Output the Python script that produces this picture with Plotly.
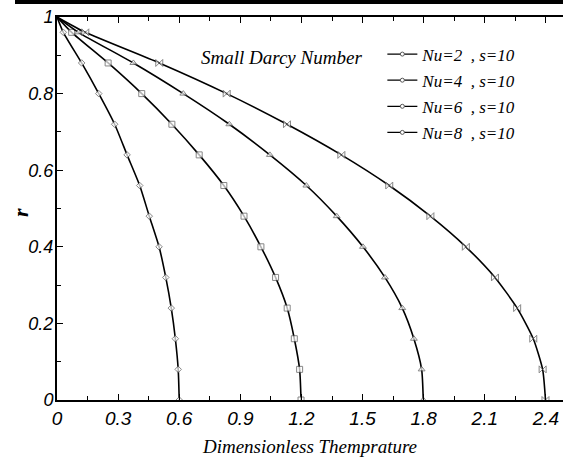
import plotly.graph_objects as go

# ---- data ----
r_vals = [1.0, 0.96, 0.88, 0.80, 0.72, 0.64, 0.56, 0.48, 0.40, 0.32, 0.24, 0.16, 0.08, 0.0]
temp_nu2 = [0, 0.031, 0.121, 0.205, 0.283, 0.344, 0.406, 0.453, 0.501, 0.534, 0.561, 0.581, 0.595, 0.600]
temp_nu4 = [0, 0.072, 0.251, 0.416, 0.564, 0.698, 0.819, 0.918, 1.001, 1.073, 1.130, 1.165, 1.191, 1.198]
temp_nu6 = [0, 0.105, 0.375, 0.620, 0.846, 1.045, 1.224, 1.373, 1.502, 1.610, 1.695, 1.752, 1.790, 1.798]
temp_nu8 = [0, 0.139, 0.502, 0.833, 1.129, 1.396, 1.631, 1.833, 2.007, 2.150, 2.259, 2.338, 2.384, 2.398]
series_names = ["Nu=2  , s=10", "Nu=4  , s=10", "Nu=6  , s=10", "Nu=8  , s=10"]
x_ticks = [0, 0.3, 0.6, 0.9, 1.2, 1.5, 1.8, 2.1, 2.4]
x_tick_labels = ["0", "0.3", "0.6", "0.9", "1.2", "1.5", "1.8", "2.1", "2.4"]
y_ticks = [0, 0.2, 0.4, 0.6, 0.8, 1]
y_tick_labels = ["0", "0.2", "0.4", "0.6", "0.8", "1"]

series = [temp_nu2, temp_nu4, temp_nu6, temp_nu8]
symbols = ["diamond", "square", "triangle-up", "bowtie"]
msizes = [5, 6, 6, 7]

SERIF = "Liberation Serif, Times New Roman, serif"
SANS = "Liberation Sans, Arial, sans-serif"

fig = go.Figure()
for vals, sym, ms in zip(series, symbols, msizes):
    sizes = [0] + [ms] * (len(vals) - 1)
    fig.add_trace(go.Scatter(
        x=vals, y=r_vals, mode="lines+markers",
        line=dict(color="black", width=1.6, shape="spline", smoothing=0.6),
        marker=dict(symbol=sym, size=sizes, color="white",
                    line=dict(color="#555555", width=1)),
        showlegend=False, hoverinfo="skip",
    ))

# legend entries (reference uses the same small circle icon for each)
for i, name in enumerate(series_names):
    fig.add_trace(go.Scatter(
        x=[None], y=[None], mode="lines+markers", name=name,
        legendgroup=str(i),
        line=dict(color="black", width=1.2),
        marker=dict(symbol="circle", size=4, color="white",
                    line=dict(color="#555555", width=1)),
    ))

fig.add_annotation(
    x=1.10, y=0.895, xref="x", yref="y", text="Small Darcy Number",
    showarrow=False, font=dict(family=SERIF, size=19, color="black", style="italic"),
)

# y-axis title placed as rotated text
fig.add_annotation(
    x=-0.072, y=0.49, xref="paper", yref="paper", text="<b>r</b>",
    textangle=-90, showarrow=False, xanchor="center", yanchor="middle",
    font=dict(family=SERIF, size=22, color="black", style="italic"),
)

# page border line at the top
fig.add_shape(type="line", xref="paper", yref="paper",
              x0=-0.083, x1=1.0, y0=1.039, y1=1.039,
              line=dict(color="black", width=4))

fig.update_layout(
    width=563, height=461,
    margin=dict(l=57, r=0, t=17, b=61),
    paper_bgcolor="white", plot_bgcolor="white",
    legend=dict(
        x=0.643, y=0.949, xanchor="left", yanchor="top",
        bgcolor="rgba(0,0,0,0)", borderwidth=0,
        font=dict(family=SERIF, size=17, color="black", style="italic"),
        itemwidth=30, traceorder="grouped", tracegroupgap=1,
    ),
    xaxis=dict(
        range=[0, 2.484], tickmode="array", tickvals=x_ticks, ticktext=x_tick_labels,
        ticks="inside", ticklen=6, tickwidth=1, tickcolor="black",
        minor=dict(dtick=0.15, ticks="inside", ticklen=4, tickcolor="black", showgrid=False),
        showline=True, linecolor="black", linewidth=2, mirror="ticks",
        showgrid=False, zeroline=False, automargin=False,
        tickfont=dict(family=SANS, size=19, color="black", style="italic"),
        title=dict(text="Dimensionless Themprature", standoff=12,
                   font=dict(family=SERIF, size=19, color="black", style="italic")),
    ),
    yaxis=dict(
        range=[0, 1], tickmode="array", tickvals=y_ticks, ticktext=y_tick_labels,
        ticks="inside", ticklen=6, tickwidth=1, tickcolor="black",
        minor=dict(dtick=0.1, ticks="inside", ticklen=4, tickcolor="black", showgrid=False),
        showline=True, linecolor="black", linewidth=2, ticklabelstandoff=-2,
        showgrid=False, zeroline=False, automargin=False,
        tickfont=dict(family=SANS, size=18, color="black", style="italic"),
    ),
)

fig.write_html("out.html", config={"displayModeBar": False},
               post_script="document.body.style.margin='0';")
